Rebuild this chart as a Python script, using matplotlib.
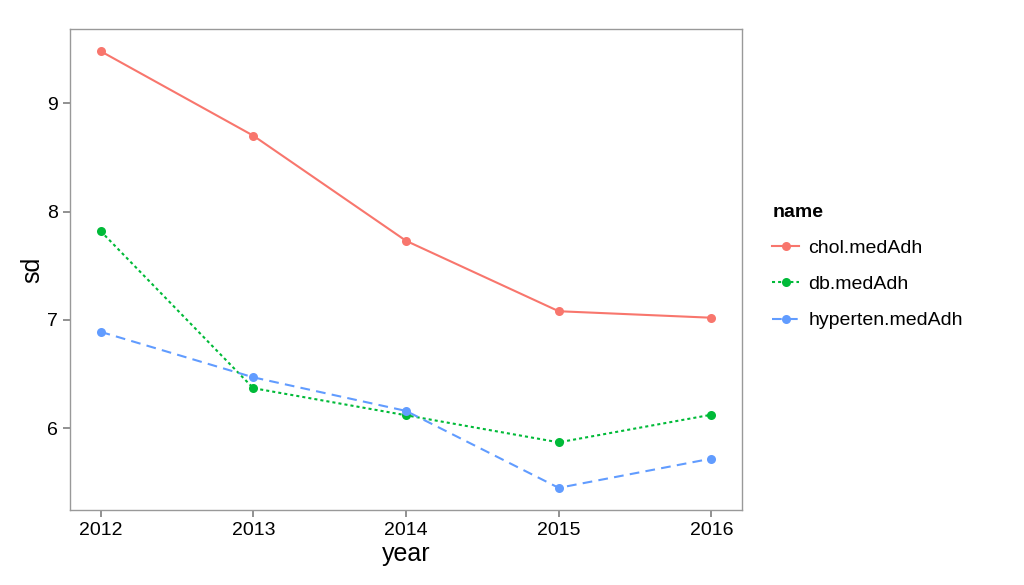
#!/usr/bin/env python3

import matplotlib
matplotlib.use("Agg")
import matplotlib.pyplot as plt

plt.rcParams['font.family'] = ['Liberation Sans', 'DejaVu Sans']
plt.rcParams['lines.scale_dashes'] = False

years = [2012, 2013, 2014, 2015, 2016]
names = ['chol.medAdh', 'db.medAdh', 'hyperten.medAdh']
chol = [9.48, 8.70, 7.73, 7.08, 7.02]
db = [7.82, 6.37, 6.12, 5.87, 6.125]
hyperten = [6.89, 6.47, 6.16, 5.45, 5.72]

series = [chol, db, hyperten]
colors = ['#F8766D', '#00BA38', '#619CFF']
dashes = [None, (2.2, 2.2), (7, 4.5)]

fig = plt.figure(figsize=(10.24, 5.85), dpi=100)
ax = fig.add_axes([0.0684, 0.129, 0.6562, 0.8206])

for vals, name, col, d in zip(series, names, colors, dashes):
    line, = ax.plot(years, vals, color=col, lw=1.5, marker='o', markersize=6.5,
                    markeredgewidth=0, label=name)
    if d is not None:
        line.set_dashes(d)

ax.set_xlim(2011.8, 2016.2)
ax.set_ylim(5.25, 9.68)
ax.set_xticks(years)
ax.set_yticks([6, 7, 8, 9])

for s in ax.spines.values():
    s.set_color('#999999')
    s.set_linewidth(1.0)
ax.tick_params(direction='out', length=5, width=1.3, color='#888888',
               labelsize=14, labelcolor='black', pad=4)

ax.set_xlabel('year', fontsize=18, labelpad=2)
ax.set_ylabel('sd', fontsize=18, labelpad=2)

leg = ax.legend(loc='upper left', bbox_to_anchor=(0.737, 0.681),
                bbox_transform=fig.transFigure, frameon=False, title='name',
                fontsize=14, handlelength=1.4, handletextpad=0.45,
                labelspacing=0.95, alignment='left')
leg.get_title().set_fontweight('bold')
leg.get_title().set_fontsize(14)

fig.savefig('out.png', dpi=100)
